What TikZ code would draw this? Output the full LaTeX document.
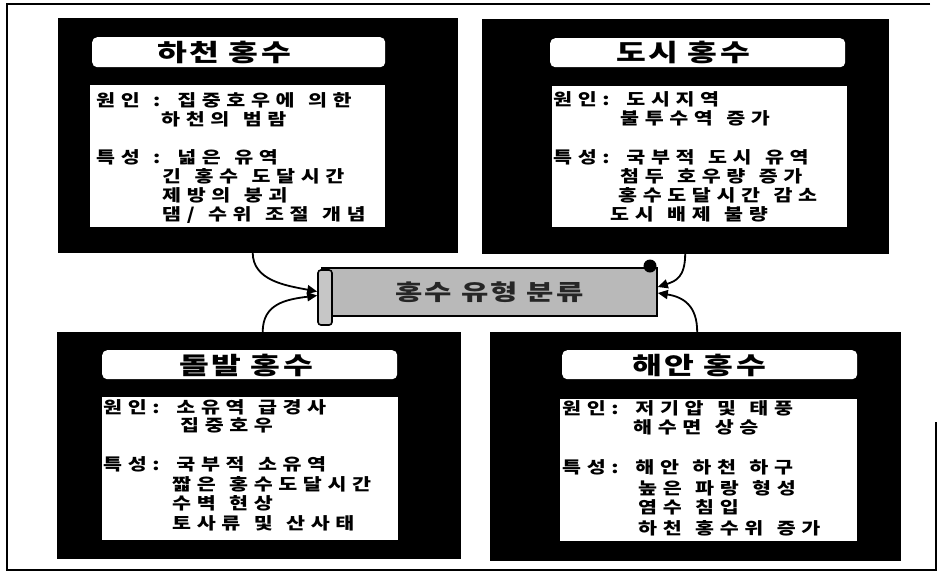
\documentclass[tikz,border=0pt]{standalone}
\usepackage{fontspec}
\newfontfamily\kr[LetterSpace=34,WordSpace=1.3,FakeStretch=1.25]{Noto Sans CJK KR}
\newfontfamily\krt[LetterSpace=10,FakeStretch=1.35]{Noto Sans CJK KR}
\usetikzlibrary{arrows.meta}
\begin{document}
\begin{tikzpicture}[x=1pt,y=-1pt,
  blk/.style={fill=black,draw=black,inner sep=0pt,anchor=north west},
  ttl/.style={fill=white,rounded corners=5pt,inner sep=0pt,anchor=north west},
  cnt/.style={fill=white,inner sep=0pt,anchor=north west},
  ln/.style={anchor=west,inner sep=0pt,font=\kr\bfseries\fontsize{16.5}{16.5}\selectfont},
  tt/.style={inner sep=0pt,font=\krt\bfseries\fontsize{24}{24}\selectfont},
  conn/.style={line width=1.8pt,-{Triangle[length=10pt,width=9pt]}},
  frm/.style={line width=1.4pt}]
\useasboundingbox (0,0) rectangle (937,574);
% outer frame
\coordinate (f1) at (7,4);
\coordinate (f2) at (930,4);
\coordinate (f3) at (7,570);
\coordinate (f4) at (936,570);
\coordinate (f5) at (936,422);
\draw[frm] (f2) -- (f1) -- (f3) -- (f4) -- (f5);
% black panels
\node[blk,minimum width=399pt,minimum height=234pt] (tl) at (58,18) {};
\node[blk,minimum width=406pt,minimum height=234pt] (tr) at (482,19) {};
\node[blk,minimum width=403pt,minimum height=226pt] (bl) at (57,332) {};
\node[blk,minimum width=410pt,minimum height=228pt] (br) at (490,332) {};
% title boxes
\node[ttl,minimum width=293pt,minimum height=30pt] (tlb) at (92,37) {};
\node[ttl,minimum width=295pt,minimum height=29pt] (trb) at (550,38) {};
\node[ttl,minimum width=295pt,minimum height=29pt] (blb) at (102,350) {};
\node[ttl,minimum width=295pt,minimum height=29pt] (brb) at (562,350) {};
\node[tt] (tlt) at (224,52) {하천 홍수};
\node[tt] (trt) at (683,52) {도시 홍수};
\node[tt] (blt) at (246,365) {돌발 홍수};
\node[tt] (brt) at (699,365) {해안 홍수};
% content boxes
\node[cnt,minimum width=295pt,minimum height=142pt] (tlc) at (90,85) {};
\node[cnt,minimum width=295pt,minimum height=141pt] (trc) at (552,86) {};
\node[cnt,minimum width=296pt,minimum height=143pt] (blc) at (102,397) {};
\node[cnt,minimum width=297pt,minimum height=142pt] (brc) at (560,399) {};
% TL text
\node[ln] (tl1) at (96,100) {원인 : 집중호우에 의한};
\node[ln] (tl2) at (161,119) {하천의 범람};
\node[ln] (tl3) at (96,157) {특성 : 넓은 유역};
\node[ln] (tl4) at (162,176) {긴 홍수 도달시간};
\node[ln] (tl5) at (162,195) {제방의 붕괴};
\node[ln] (tl6) at (162,215) {댐/ 수위 조절 개념};
% TR text
\node[ln] (tr1) at (553,99) {원인: 도시지역};
\node[ln] (tr2) at (620,118) {불투수역 증가};
\node[ln] (tr3) at (553,157) {특성: 국부적 도시 유역};
\node[ln] (tr4) at (620,176) {첨두 호우량 증가};
\node[ln] (tr5) at (618,195) {홍수도달시간 감소};
\node[ln] (tr6) at (610,214) {도시 배제 불량};
% BL text
\node[ln] (bl1) at (103,407) {원인: 소유역 급경사};
\node[ln] (bl2) at (180,425) {집중호우};
\node[ln] (bl3) at (103,464) {특성: 국부적 소유역};
\node[ln] (bl4) at (172,484) {짧은 홍수도달시간};
\node[ln] (bl5) at (172,503) {수벽 현상};
\node[ln] (bl6) at (172,523) {토사류 및 산사태};
% BR text
\node[ln] (br1) at (562,408) {원인: 저기압 및 태풍};
\node[ln] (br2) at (633,427) {해수면 상승};
\node[ln] (br3) at (562,467) {특성: 해안 하천 하구};
\node[ln] (br4) at (638,488) {높은 파랑 형성};
\node[ln] (br5) at (638,507) {염수 침입};
\node[ln] (br6) at (638,528) {하천 홍수위 증가};
% scroll
\node[fill=gray!55,draw=black,line width=1.6pt,minimum width=335pt,minimum height=48pt,inner sep=0pt,
      font=\krt\bfseries\fontsize{22}{22}\selectfont,text=black!85] (sc) at (489.5,292) {홍수 유형 분류};
\node[fill=gray!45,draw=black,line width=1.6pt,rounded corners=3pt,minimum width=14pt,minimum height=55pt,inner sep=0pt] (lc) at (325,297.5) {};
\node[circle,fill=black,minimum size=13pt,inner sep=0pt] (rc) at (650,266) {};
% connectors
\draw[conn] ([xshift=-5pt]tl.south) .. controls +(0,28) and +(-32,-6) .. ([yshift=6pt]lc.west);
\draw[conn] ([xshift=4pt]bl.north) .. controls +(0,-28) and +(-32,4) .. ([yshift=2pt]lc.west);
\draw[conn] (tr.south) .. controls +(0,24) and +(18,-6) .. ([yshift=5pt]sc.east);
\draw[conn] ([xshift=2pt]br.north) .. controls +(0,-26) and +(26,4) .. ([yshift=-1pt]sc.east);
\end{tikzpicture}
\end{document}
